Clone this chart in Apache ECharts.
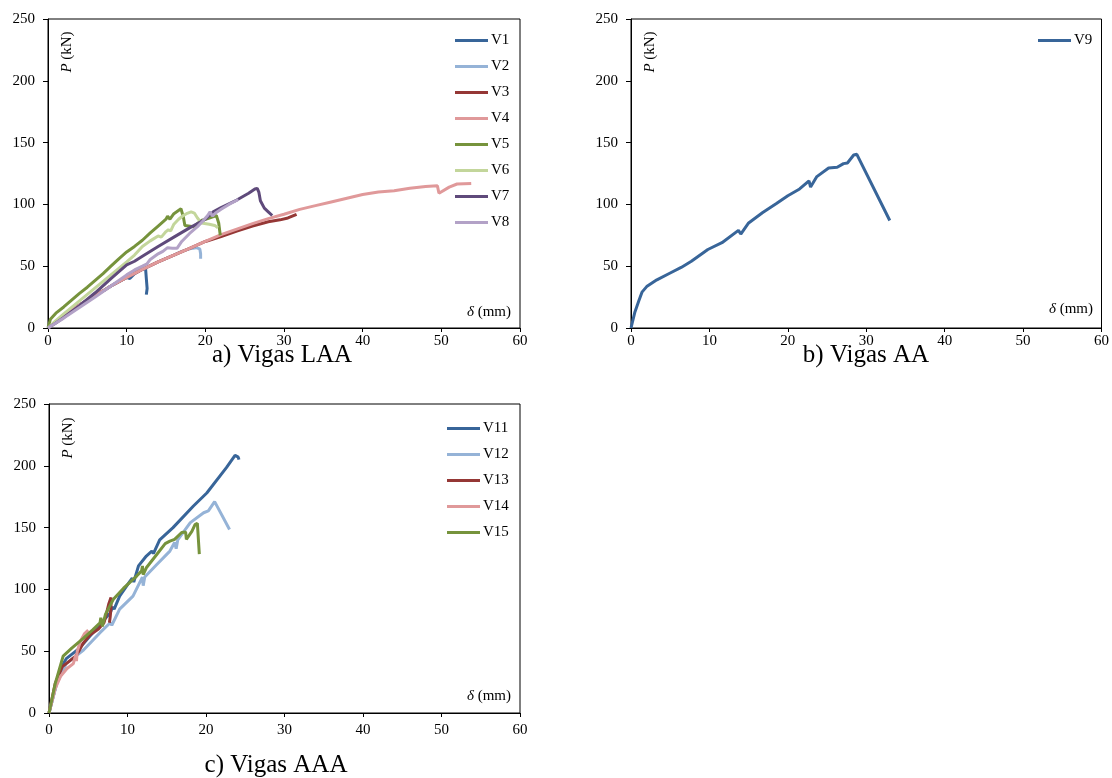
<!DOCTYPE html>
<html>
<head>
<meta charset="utf-8">
<script src="https://cdn.jsdelivr.net/npm/echarts@6/dist/echarts.min.js"></script>
<style>
  html, body { margin: 0; padding: 0; background: #fff; }
  #main { width: 1112px; height: 778px; }
</style>
</head>
<body>
<div id="main"></div>
<script>
// ejes
var xTicks = [0, 10, 20, 30, 40, 50, 60];
var yTicks = [0, 50, 100, 150, 200, 250];

// a) Vigas LAA  [delta (mm), P (kN)]
var v1 = [[0,0],[1,5],[2,10],[3,14.5],[4,18.5],[5,22.5],[6,26.5],[7,30],[8,34],[9,37.5],[10,41],[10.4,40],[11,44],[11.8,47],[12.4,48.5],[12.5,40],[12.6,32],[12.5,27]];
var v2 = [[0,0],[1,5],[2,10],[3,14.5],[4,18.5],[5,22.5],[6,26.5],[7,30],[8,34],[9,37.5],[10,41],[12,47.5],[14,53.5],[16,59],[17,62],[18,64],[18.8,65],[19.3,64],[19.4,60],[19.4,56]];
var v3 = [[0,0],[1,5],[2,10],[3,14.5],[4,18.5],[5,22.5],[6,26.5],[7,30],[8,34],[9,37.5],[10,41],[12,47.5],[14,53.5],[16,59],[18,64.5],[20,70],[22,74],[24,78.5],[26,82.5],[28,86],[29.5,87.5],[30.5,89],[31.6,92]];
var v4 = [[0,0],[1,5],[2,10],[3,14.5],[4,18.5],[5,22.5],[6,26.5],[7,30],[8,34],[9,37.5],[10,41],[12,47.5],[14,53.5],[16,59],[18,64.5],[20,70],[22,75.5],[24,80],[26,84.5],[28,88.5],[30,92],[32,96],[34,99],[36,102],[38,105],[40,108],[42,110],[44,111],[46,113],[48,114.5],[49.5,115],[49.7,109],[51,114],[52,116.5],[53.8,117]];
var v5 = [[0,0],[0.3,7],[1,12],[2,17],[3,22.5],[4,28],[5,33],[6,38.5],[7,44],[8,50],[9,56],[10,61.5],[11,66],[12,71],[13,77],[14,82.5],[15,88],[15.2,90.5],[15.5,88],[16,92.5],[16.9,96.5],[17.2,90],[17.4,83],[18.5,82],[19.5,87],[20.5,89],[21.4,91],[21.7,85],[21.9,75]];
var v6 = [[0,0],[1,6],[2,11.5],[4,22],[6,32.5],[8,43],[10,53.5],[11,59],[12,66],[13,70.5],[14,74.5],[14.4,73.5],[15,78],[15.3,79.5],[15.6,78.5],[16,84],[16.6,88],[17.2,91],[17.6,92.5],[18.2,94],[18.6,93],[19,89],[19.5,85],[20.5,84],[21.2,83],[21.6,81]];
var v7 = [[0,0],[1,4],[2,8.5],[4,18],[6,28.5],[8,40],[10,51],[11,54],[12,58],[14,66],[16,73.5],[18,81],[20,88],[21,94],[22,97.5],[24,103.5],[25.5,109],[26.3,112.5],[26.6,113],[26.8,110],[27,103],[27.5,97],[28,94],[28.5,91]];
var v8 = [[0,0],[1,4],[2,8],[4,16.5],[6,25],[8,34],[10,43],[11,47],[12,50],[12.6,52],[13,55.5],[14,60],[14.6,62],[15.2,65],[15.8,64.5],[16.4,64.5],[17,70],[18,76.5],[19,82],[19.6,86],[20.3,91],[20.6,94],[20.9,90.5],[21.3,93],[22,96],[23,100],[24.2,104]];

// b) Vigas AA
var v9 = [[0,0],[0.5,13],[1,22],[1.4,29],[2,33.5],[3.3,39],[5,44.5],[6.4,49],[7.7,54],[9.8,63.5],[11.6,69],[13.7,79],[14,76],[15,85],[16.8,93.5],[18.5,100.5],[20,107],[21.5,112.5],[22.7,119],[22.9,114],[23.7,122.5],[25.2,129.5],[26.3,130],[27.1,133],[27.6,133.5],[28.4,140],[28.8,140.5],[33,87]];

// c) Vigas AAA
var v11 = [[0,0],[0.8,20],[1.4,35],[2.2,44],[3.9,52.5],[5.2,62],[6.5,71.5],[7.8,81],[8.1,86],[8.3,84],[9,94.5],[10.3,106.5],[10.6,109],[10.8,106],[11.4,119],[12.4,127],[13.1,131],[13.3,129],[14.1,140],[15.8,150],[18.4,167.5],[20.1,178],[22.6,198.5],[23.7,208.5],[24.1,207],[24.2,205]];
var v12 = [[0,0],[1,24],[2.2,40],[4.4,51],[6.5,65],[7.8,73],[8,71],[9,84],[10.7,94.5],[11.9,110],[12,103],[12.2,110],[13.7,120],[15.4,131],[16,138],[16.2,133],[16.4,140],[18,154],[19.7,162],[20.3,163.5],[21.1,171],[21.3,170],[23,148.5]];
var v13 = [[0,0],[0.8,24],[1.7,37.5],[2.6,42],[3.4,46],[3.8,50],[4.3,56],[5.2,63],[6.3,68],[7,73],[7.3,80],[7.6,88],[7.9,93.5],[8.1,92],[7.9,85],[7.8,78],[7.7,73]];
var v14 = [[0,0],[0.8,20],[1.5,30],[2.3,36],[3.1,40],[3.4,47],[3.5,42],[3.6,50],[4,58],[4.5,64],[5,67]];
var v15 = [[0,0],[0.8,24],[1.8,46],[2.9,52.5],[4.4,60.5],[5.6,67.5],[6.5,73],[6.6,77],[6.8,70],[7.2,80],[8.2,92],[9.5,101],[11.2,111],[11.8,115],[11.9,119],[12,112],[12.4,117.5],[13.7,128],[14.8,137],[15.4,139],[16,140.5],[16.9,146],[17.4,146.5],[17.5,140.5],[18.2,147],[18.6,152.5],[18.9,153.5],[19.15,128.5]];

var names = ['V1','V2','V3','V4','V5','V6','V7','V8','V9','V11','V12','V13','V14','V15'];
var datos = [v1,v2,v3,v4,v5,v6,v7,v8,v9,v11,v12,v13,v14,v15];
var colores = ['#386599','#95B3D7','#953735','#E0999A','#76933C','#C3D69B','#5F4A7B','#B3A2C7','#386599','#386599','#95B3D7','#953735','#E0999A','#76933C'];
var panel = [0,0,0,0,0,0,0,0,1,2,2,2,2,2];

var fuente = 'Liberation Serif, Times New Roman, serif';

var grids = [
  {left: 48, top: 19, width: 472, height: 309},
  {left: 631, top: 19, width: 472, height: 309},
  {left: 49, top: 404, width: 471, height: 309}
];

function makeX(i, margen) {
  return {
    type: 'value', gridIndex: i, min: xTicks[0], max: xTicks[xTicks.length - 1], interval: 10,
    axisLine: {onZero: false, lineStyle: {color: '#000', width: 1}},
    axisTick: {show: true, length: 4, lineStyle: {color: '#000'}},
    splitLine: {show: false},
    axisLabel: {color: '#000', fontFamily: fuente, fontSize: 15, margin: margen}
  };
}
function makeY(i) {
  return {
    type: 'value', gridIndex: i, min: yTicks[0], max: yTicks[yTicks.length - 1], interval: 50,
    axisLine: {show: true, onZero: false, lineStyle: {color: '#000', width: 1}},
    axisTick: {show: true, length: 5, lineStyle: {color: '#000'}},
    splitLine: {show: false},
    axisLabel: {color: '#000', fontFamily: fuente, fontSize: 15, margin: 13}
  };
}

var series = datos.map(function (d, k) {
  return {
    name: names[k], type: 'line', xAxisIndex: panel[k], yAxisIndex: panel[k],
    data: d, symbol: 'none', showSymbol: false, smooth: false,
    lineStyle: {color: colores[k], width: 3},
    itemStyle: {color: colores[k]},
    animation: false
  };
});

function legenda(lista, left, top) {
  return {
    data: lista, orient: 'vertical', left: left, top: top, padding: 0,
    icon: 'rect', itemWidth: 33, itemHeight: 3, itemGap: 11,
    textStyle: {color: '#000', fontFamily: fuente, fontSize: 15, lineHeight: 14, padding: [0, 0, 0, -2]},
    selectedMode: false
  };
}

function txt(x, y, s, rot, align) {
  return {
    type: 'text', x: x, y: y, rotation: rot || 0,
    style: {
      text: s, fill: '#000', font: '15px ' + fuente,
      align: align || 'center', verticalAlign: 'middle',
      rich: {i: {fontStyle: 'italic', fontFamily: fuente, fontSize: 15}}
    }
  };
}

var chart = echarts.init(document.getElementById('main'), null, {renderer: 'canvas'});
chart.setOption({
  backgroundColor: '#fff',
  animation: false,
  grid: grids.map(function (g) {
    return Object.assign({show: true, borderColor: '#000', borderWidth: 1, backgroundColor: 'transparent'}, g);
  }),
  xAxis: [makeX(0, 6), makeX(1, 6), makeX(2, 10)],
  yAxis: [makeY(0), makeY(1), makeY(2)],
  legend: [
    legenda(names.slice(0, 8), 455, 33),
    legenda(['V9'], 1038, 33),
    legenda(names.slice(9), 447, 421)
  ],
  series: series,
  graphic: [
    txt(67, 52, '{i|P} (kN)', Math.PI / 2),
    txt(650, 52, '{i|P} (kN)', Math.PI / 2),
    txt(68, 438, '{i|P} (kN)', Math.PI / 2),
    txt(511, 312, '{i|δ} (mm)', 0, 'right'),
    txt(1093, 309, '{i|δ} (mm)', 0, 'right'),
    txt(511, 696, '{i|δ} (mm)', 0, 'right'),
    {type: 'text', x: 282, y: 355, style: {text: 'a) Vigas LAA', fill: '#000', font: '25px ' + fuente, align: 'center', verticalAlign: 'middle'}},
    {type: 'text', x: 866, y: 355, style: {text: 'b) Vigas AA', fill: '#000', font: '25px ' + fuente, align: 'center', verticalAlign: 'middle'}},
    {type: 'text', x: 276, y: 765, style: {text: 'c) Vigas AAA', fill: '#000', font: '25px ' + fuente, align: 'center', verticalAlign: 'middle'}}
  ]
});
</script>
</body>
</html>
